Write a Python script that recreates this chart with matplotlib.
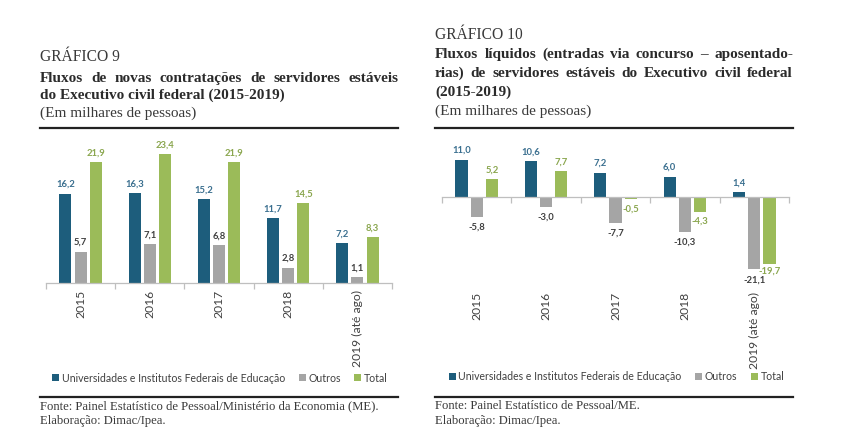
import matplotlib
matplotlib.use("Agg")
import matplotlib.pyplot as plt
import matplotlib.transforms as mtransforms
from matplotlib.lines import Line2D
import numpy as np

# ---------------- data ----------------
categories = ["2015", "2016", "2017", "2018", "2019 (até ago)"]
series_names = ["Universidades e Institutos Federais de Educação", "Outros", "Total"]

g9_univ = [16.2, 16.3, 15.2, 11.7, 7.2]
g9_outros = [5.7, 7.1, 6.8, 2.8, 1.1]
g9_total = [21.9, 23.4, 21.9, 14.5, 8.3]

g10_univ = [11.0, 10.6, 7.2, 6.0, 1.4]
g10_outros = [-5.8, -3.0, -7.7, -10.3, -21.1]
g10_total = [5.2, 7.7, -0.5, -4.3, -19.7]

# ---------------- style ----------------
W, H = 847, 448
BAR_COLORS = ["#1d5d7c", "#a5a5a5", "#9bbb59"]
LABEL_COLORS = ["#3a6f8f", "#404040", "#8aa64e"]
AXIS_COLOR = "#bfbfbf"
TEXT_DARK = "#2b2b2b"
SANS = "Lato"
SERIF = "Liberation Serif"

fig = plt.figure(figsize=(W / 100, H / 100), dpi=100)
fig.patch.set_facecolor("white")


def fx(px):
    return px / W


def fy(py):
    return 1 - py / H


renderer = fig.canvas.get_renderer()


def justify(text, x0, x1, ybase, **kw):
    words = text.split(" ")
    arts = []
    widths = []
    for w in words:
        t = fig.text(0, fy(ybase), w, va="baseline", ha="left", **kw)
        widths.append(t.get_window_extent(renderer).width)
        arts.append(t)
    gap = (x1 - x0 - sum(widths)) / max(len(words) - 1, 1)
    x = x0
    for t, wd in zip(arts, widths):
        t.set_x(fx(x))
        x += wd + gap


def left_text(text, x0, ybase, **kw):
    fig.text(fx(x0), fy(ybase), text, va="baseline", ha="left", **kw)


def bar_chart(ax, data, ylim, px_per_unit):
    x = np.arange(len(categories))
    offsets = [-0.22, 0.0, 0.22]
    width = 0.175
    handles = []
    for i, (vals, off) in enumerate(zip(data, offsets)):
        b = ax.bar(x + off, vals, width=width, color=BAR_COLORS[i], label=series_names[i], zorder=2)
        handles.append(b)
        for j, (xi, v) in enumerate(zip(x, vals)):
            lab = f"{v:.1f}".replace(".", ",")
            if v >= 0:
                ax.text(xi + off, v + 4.5 / px_per_unit, lab, ha="center", va="bottom",
                        fontsize=6.8, fontweight="bold", color=LABEL_COLORS[i], family=SANS)
            else:
                pad = 5.5
                # neighbouring negative labels at similar depth: stagger them (as Excel does)
                if i == 1 and data[2][j] < 0 and abs(data[2][j] - v) * px_per_unit < 10:
                    pad = 7
                if i == 2 and data[1][j] < 0 and abs(data[1][j] - v) * px_per_unit < 10:
                    pad = 2.5
                ax.text(xi + off, v - pad / px_per_unit, lab, ha="center", va="top",
                        fontsize=6.8, fontweight="bold", color=LABEL_COLORS[i], family=SANS)
    ax.set_xlim(-0.5, len(categories) - 0.5)
    ax.set_ylim(*ylim)
    for s in ["top", "right", "left"]:
        ax.spines[s].set_visible(False)
    ax.spines["bottom"].set_position(("data", 0))
    ax.spines["bottom"].set_color(AXIS_COLOR)
    ax.spines["bottom"].set_linewidth(0.9)
    ax.set_yticks([])
    ax.set_xticks(x)
    ax.set_xticklabels([])
    ax.tick_params(axis="x", which="major", length=0)
    ax.set_xticks(np.arange(-0.5, len(categories)), minor=True)
    ax.tick_params(axis="x", which="minor", length=4, width=0.9, color=AXIS_COLOR, direction="out")
    ax.patch.set_alpha(0)
    return handles


def cat_labels(ax, top_px):
    tr = mtransforms.blended_transform_factory(ax.transData, fig.transFigure)
    for i, c in enumerate(categories):
        ax.text(i, fy(top_px), c, rotation=90, ha="center", va="top", transform=tr,
                fontsize=8.7, color="#404040", family=SANS)


def legend(ax, handles, cx, cy):
    fig.legend(handles=handles, labels=series_names, loc="center",
               bbox_to_anchor=(fx(cx), fy(cy)), ncol=3, frameon=False,
               prop={"family": SANS, "size": 7.6}, handlelength=0.65, handleheight=0.65,
               handletextpad=0.25, columnspacing=1.3, labelcolor="#404040", borderpad=0)


# ---------------- GRÁFICO 9 ----------------
px9 = 5.52
ax9 = fig.add_axes([fx(46), fy(283), fx(346), 26 * px9 / H])
h9 = bar_chart(ax9, [g9_univ, g9_outros, g9_total], (0, 26), px9)
cat_labels(ax9, 290)
legend(ax9, h9, 220, 378)

left_text("GRÁFICO 9", 40, 60.7, family=SERIF, fontsize=11.2, color="#3a3a3a")
justify("Fluxos de novas contratações de servidores estáveis", 40, 398, 81.7,
        family=SERIF, fontsize=11, fontweight="bold", color=TEXT_DARK)
left_text("do Executivo civil federal (2015-2019)", 40, 99, family=SERIF, fontsize=11,
          fontweight="bold", color=TEXT_DARK)
left_text("(Em milhares de pessoas)", 40, 117, family=SERIF, fontsize=11, color="#3a3a3a")
fig.add_artist(Line2D([fx(40), fx(398)], [fy(128.3), fy(128.3)], color="#222222", lw=1.6))

fig.add_artist(Line2D([fx(40), fx(398)], [fy(397.3), fy(397.3)], color="#222222", lw=1.6))
left_text("Fonte: Painel Estatístico de Pessoal/Ministério da Economia (ME).", 40, 409,
          family=SERIF, fontsize=9.1, color="#3a3a3a")
left_text("Elaboração: Dimac/Ipea.", 40, 424, family=SERIF, fontsize=9.1, color="#3a3a3a")

# ---------------- GRÁFICO 10 ----------------
px10 = 3.4
ax10 = fig.add_axes([fx(442), fy(197 + 23 * px10), fx(347), 36 * px10 / H])
h10 = bar_chart(ax10, [g10_univ, g10_outros, g10_total], (-23, 13), px10)
cat_labels(ax10, 292)
legend(ax10, h10, 616.5, 377)

left_text("GRÁFICO 10", 435, 39.3, family=SERIF, fontsize=11.2, color="#3a3a3a")
justify("Fluxos líquidos (entradas via concurso – aposentado-", 435, 793, 57.7,
        family=SERIF, fontsize=11, fontweight="bold", color=TEXT_DARK)
justify("rias) de servidores estáveis do Executivo civil federal", 435, 793, 76.7,
        family=SERIF, fontsize=11, fontweight="bold", color=TEXT_DARK)
left_text("(2015-2019)", 435, 96.2, family=SERIF, fontsize=11, fontweight="bold", color=TEXT_DARK)
left_text("(Em milhares de pessoas)", 435, 115, family=SERIF, fontsize=11, color="#3a3a3a")
fig.add_artist(Line2D([fx(435), fx(793)], [fy(128.3), fy(128.3)], color="#222222", lw=1.6))

fig.add_artist(Line2D([fx(435), fx(793)], [fy(397.3), fy(397.3)], color="#222222", lw=1.6))
left_text("Fonte: Painel Estatístico de Pessoal/ME.", 435, 409, family=SERIF, fontsize=9.1, color="#3a3a3a")
left_text("Elaboração: Dimac/Ipea.", 435, 424, family=SERIF, fontsize=9.1, color="#3a3a3a")

fig.savefig("out.png", dpi=100)
